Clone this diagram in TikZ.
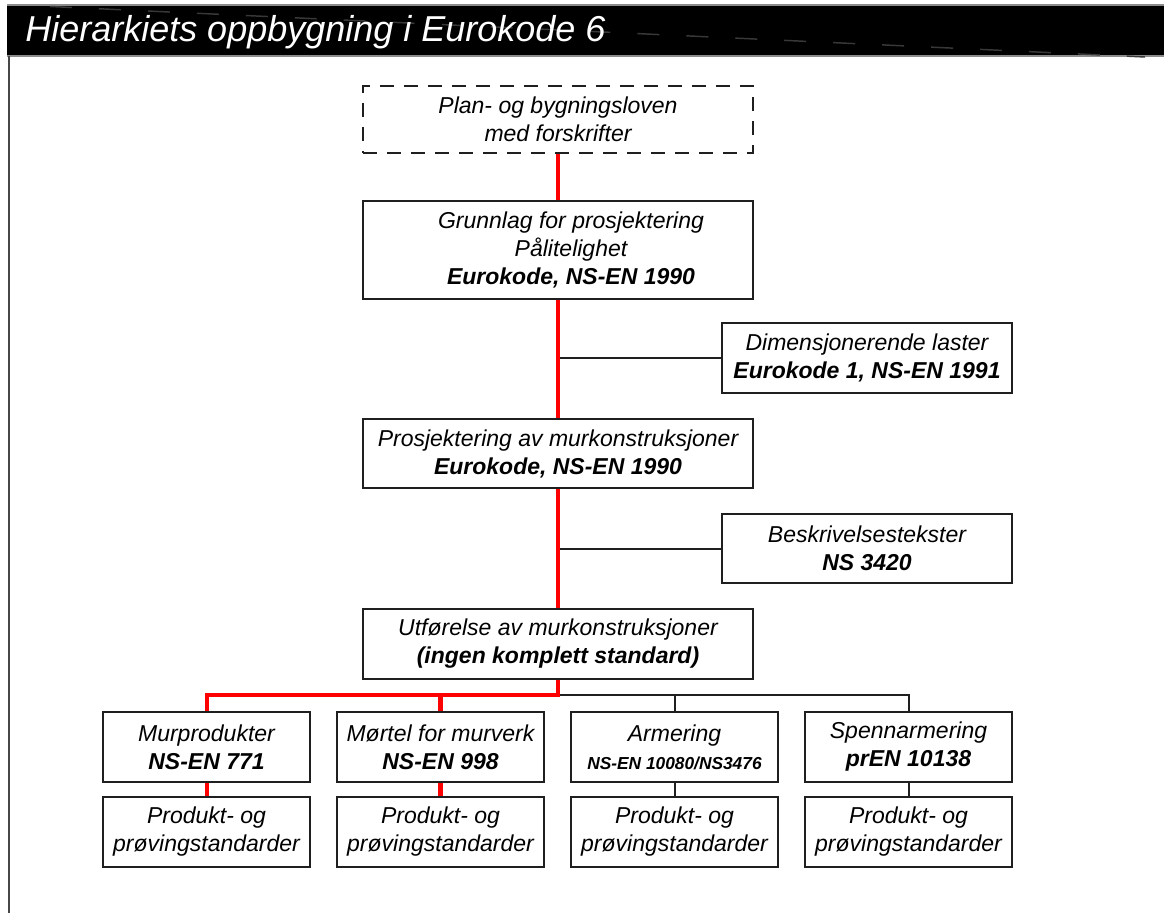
\documentclass[tikz,border=0pt]{standalone}
\usepackage{fontspec}
\setmainfont{Liberation Sans}
\newcommand\bodyfs{\fontsize{17.25pt}{21pt}\selectfont}
\newcommand\smallfs{\fontsize{13pt}{16pt}\selectfont}
\begin{document}
\begin{tikzpicture}[x=0.75pt,y=-0.75pt,
  box/.style={draw=black!88, line width=1.5pt, fill=white, inner sep=0pt, align=center, font=\itshape\bodyfs},
  bigbox/.style={box, minimum width=292.5pt},
  sidebox/.style={box, minimum width=217.5pt, minimum height=52.5pt},
  colbox/.style={box, minimum width=155.25pt, minimum height=52.5pt},
  dashedbox/.style={dash pattern=on 10.5pt off 7.5pt},
  txt/.style={inner sep=0pt, align=center, font=\itshape\bodyfs},
  redline/.style={draw=red, line width=3pt},
  thickred/.style={draw=red, line width=4.2pt},
  blk/.style={draw=black!88, line width=1.5pt}]
\useasboundingbox (0,0) rectangle (1164,913);
% header bar
\fill[black] (7,5) rectangle (1164,56);
\draw[black!45, line width=0.9pt] (7,5) -- (1164,5);
\draw[black!45, line width=0.9pt] (7,56) -- (1164,56);
\draw[black!78, line width=1.1pt, dash pattern=on 16.5pt off 20.25pt] (50,6.5) -- (1145,57);
\node[anchor=base west, text=white, inner sep=0pt, font=\itshape\fontsize{27pt}{30pt}\selectfont] (title) at (25,42) {Hierarkiets oppbygning i Eurokode 6};
% left border
\draw[black!72, line width=1.8pt] (9,56) -- (9,913);
% nodes
\node[bigbox, dashedbox, minimum height=50.25pt] (plan) at (558,119.5) {Plan- og bygningsloven\\med forskrifter};
\node[bigbox, minimum height=73.5pt] (grunn) at (558,250) {};
\node[txt] (grunnT) at (571,250) {Grunnlag for prosjektering\\Pålitelighet\\\textbf{Eurokode, NS-EN 1990}};
\node[sidebox] (dim) at (867,358) {Dimensjonerende laster\\\textbf{Eurokode 1, NS-EN 1991}};
\node[bigbox, minimum height=51.75pt] (prosj) at (558,453.5) {Prosjektering av murkonstruksjoner\\\textbf{Eurokode, NS-EN 1990}};
\node[sidebox, minimum height=51.75pt] (besk) at (867,548.5) {Beskrivelsestekster\\\textbf{NS 3420}};
\node[bigbox, minimum height=52.5pt] (utf) at (558,644) {Utførelse av murkonstruksjoner\\\textbf{(ingen komplett standard)}};
\node[colbox] (mur) at (206.5,747) {Murprodukter\\\textbf{NS-EN 771}};
\node[colbox] (mort) at (440.5,747) {Mørtel for murverk\\\textbf{NS-EN 998}};
\node[colbox] (arm) at (674.5,747) {Armering\\{\smallfs\bfseries NS-EN 10080/NS3476}};
\node[colbox] (spenn) at (908.5,747) {Spennarmering\\\textbf{prEN 10138}};
\node[colbox] (murp) at (206.5,832) {Produkt- og\\prøvingstandarder};
\node[colbox] (mortp) at (440.5,832) {Produkt- og\\prøvingstandarder};
\node[colbox] (armp) at (674.5,832) {Produkt- og\\prøvingstandarder};
\node[colbox] (spennp) at (908.5,832) {Produkt- og\\prøvingstandarder};
% black connectors
\draw[blk] (grunn.south |- dim.west) -- (dim.west);
\draw[blk] (prosj.south |- besk.west) -- (besk.west);
\coordinate (bus) at (558,695);
\draw[blk] (bus) -| (spenn.north);
\draw[blk] (arm.north) -- (arm.north |- bus);
\draw[blk] (arm.south) -- (armp.north);
\draw[blk] (spenn.south) -- (spennp.north);
% red connectors
\draw[redline] (plan.south) -- (grunn.north);
\draw[redline] (grunn.south) -- (prosj.north);
\draw[redline] (prosj.south) -- (utf.north);
\draw[redline] (utf.south) -- (bus) -| (mur.north);
\draw[thickred] (mort.north) -- (mort.north |- bus);
\draw[redline] (mur.south) -- (murp.north);
\draw[thickred] (mort.south) -- (mortp.north);
\end{tikzpicture}
\end{document}
